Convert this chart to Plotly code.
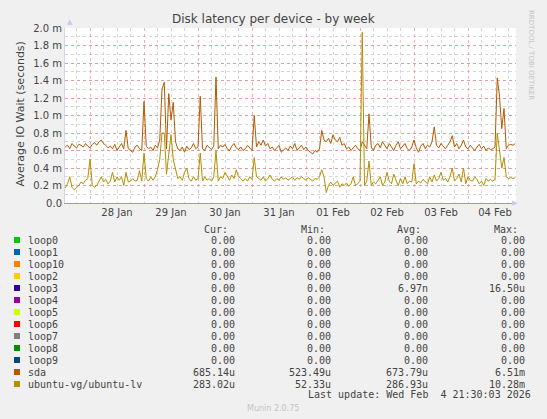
import pandas as pd
import plotly.graph_objects as go

# hourly averages, in milliseconds
start_time = "2026-01-27 13:00"

sda_ms = [
    0.64, 0.66, 0.62, 0.68, 0.65, 0.63, 0.67, 0.66, 0.64, 0.68,
    0.65, 0.63, 0.67, 0.69, 0.66, 0.70, 0.72, 0.68, 0.66, 0.63,
    0.65, 0.62, 0.67, 0.60, 0.64, 0.68, 0.62, 0.83, 0.62, 0.60,
    0.58, 0.64, 0.66, 0.62, 0.60, 1.16, 0.65, 0.62, 0.64, 0.60,
    0.66, 0.63, 0.72, 1.30, 1.38, 0.62, 1.25, 0.95, 1.15, 0.70,
    0.62, 0.60, 0.64, 0.58, 0.65, 0.61, 0.63, 0.68, 0.62, 0.64,
    1.22, 0.62, 0.60, 0.66, 0.63, 0.61, 0.65, 1.44, 0.62, 0.66,
    0.64, 0.67, 0.62, 0.60, 0.65, 0.68, 0.63, 0.61, 0.64, 0.60,
    0.62, 0.66, 0.63, 0.60, 1.00, 0.64, 0.70, 0.66, 0.72, 0.65,
    0.68, 0.62, 0.64, 0.60, 0.63, 0.66, 0.58, 0.61, 0.63, 0.60,
    0.65, 0.62, 0.68, 0.60, 0.63, 0.66, 0.61, 0.64, 0.60, 0.58,
    0.56, 0.60, 0.58, 0.62, 0.83, 0.72, 0.70, 0.74, 0.68, 0.78,
    0.72, 0.70, 0.75, 0.66, 0.68, 0.62, 0.64, 0.60, 0.63, 0.66,
    0.62, 0.60, 0.70, 0.66, 0.62, 1.02, 0.64, 0.60, 0.66, 0.68,
    0.63, 0.70, 0.66, 0.62, 0.68, 0.64, 0.60, 0.66, 0.70, 0.62,
    0.65, 0.68, 0.62, 0.60, 0.64, 0.72, 0.63, 0.58, 0.65, 0.68,
    0.62, 0.66, 0.64, 0.70, 0.87, 0.66, 0.63, 0.68, 0.65, 0.62,
    0.66, 0.70, 0.77, 0.64, 0.68, 0.62, 0.66, 0.72, 0.64, 0.62,
    0.66, 0.63, 0.60, 0.64, 0.67, 0.62, 0.65, 0.60, 0.63, 0.61,
    0.62, 0.64, 1.43, 1.22, 0.85, 1.08, 0.62, 0.66, 0.67, 0.66,
    0.68,
]

ubuntu_lv_ms = [
    0.17, 0.22, 0.30, 0.18, 0.15, 0.17, 0.20, 0.24, 0.22, 0.26,
    0.28, 0.50, 0.20, 0.18, 0.20, 0.25, 0.30, 0.24, 0.27, 0.22,
    0.25, 0.35, 0.24, 0.30, 0.26, 0.30, 0.20, 0.35, 0.24, 0.25,
    0.28, 0.25, 0.26, 0.37, 0.25, 0.57, 0.28, 0.25, 0.30, 0.26,
    0.30, 0.38, 0.50, 0.80, 0.80, 0.33, 0.60, 0.78, 0.50, 0.40,
    0.28, 0.30, 0.26, 0.35, 0.40, 0.28, 0.25, 0.30, 0.26, 0.28,
    0.57, 0.25, 0.30, 0.26, 0.28, 0.25, 0.30, 0.60, 0.25, 0.30,
    0.28, 0.35, 0.30, 0.26, 0.32, 0.28, 0.38, 0.30, 0.28, 0.25,
    0.28, 0.25, 0.30, 0.27, 0.52, 0.30, 0.28, 0.26, 0.30, 0.25,
    0.28, 0.32, 0.27, 0.25, 0.28, 0.26, 0.30, 0.27, 0.29, 0.26,
    0.28, 0.30, 0.26, 0.29, 0.27, 0.30, 0.28, 0.26, 0.29, 0.27,
    0.25, 0.28, 0.27, 0.30, 0.38, 0.30, 0.12, 0.20, 0.24, 0.20,
    0.22, 0.25, 0.18, 0.22, 0.20, 0.23, 0.19, 0.22, 0.30, 0.20,
    0.22, 0.25, 1.95, 0.20, 0.25, 0.48, 0.20, 0.24, 0.22, 0.26,
    0.30, 0.20, 0.24, 0.35, 0.25, 0.22, 0.33, 0.26, 0.20, 0.28,
    0.22, 0.30, 0.22, 0.25, 0.24, 0.45, 0.22, 0.25, 0.23, 0.27,
    0.25, 0.22, 0.30, 0.24, 0.32, 0.25, 0.28, 0.35, 0.26, 0.28,
    0.24, 0.30, 0.40, 0.25, 0.28, 0.33, 0.24, 0.40, 0.22, 0.30,
    0.26, 0.25, 0.30, 0.27, 0.22, 0.25, 0.20, 0.28, 0.25, 0.27,
    0.25, 0.27, 0.80, 0.62, 0.40, 0.52, 0.30, 0.28, 0.29, 0.28,
    0.29,
]

y_tickvals = [0.0, 0.2, 0.4, 0.6, 0.8, 1.0, 1.2, 1.4, 1.6, 1.8, 2.0]
y_ticktext = ["0.0", "0.2 m", "0.4 m", "0.6 m", "0.8 m", "1.0 m",
              "1.2 m", "1.4 m", "1.6 m", "1.8 m", "2.0 m"]

# legend table
devices = ["loop0", "loop1", "loop10", "loop2", "loop3", "loop4", "loop5",
           "loop6", "loop7", "loop8", "loop9", "sda", "ubuntu-vg/ubuntu-lv"]
colors = ["#00CC00", "#0066B3", "#FF8000", "#FFCC00", "#330099", "#990099",
          "#CCFF00", "#FF0000", "#808080", "#008F00", "#00487D", "#B35A00",
          "#B38F00"]
cur_vals = ["0.00"] * 11 + ["685.14u", "283.02u"]
min_vals = ["0.00"] * 11 + ["523.49u", "52.33u"]
avg_vals = ["0.00"] * 4 + ["6.97n"] + ["0.00"] * 6 + ["673.79u", "286.93u"]
max_vals = ["0.00"] * 4 + ["16.50u"] + ["0.00"] * 6 + ["6.51m", "10.28m"]

times = pd.date_range(start_time, periods=len(sda_ms), freq="h")

# plot box in pixels
L, R, T, B = 65, 516, 28, 203
W, H = 547, 419


def px_x(px):
    return (px - L) / (R - L)


def px_y(py):
    return (B - py) / (B - T)


fig = go.Figure()
fig.add_trace(go.Scatter(x=times, y=sda_ms, mode="lines",
                         line=dict(color="#B35A00", width=1)))
fig.add_trace(go.Scatter(x=times, y=ubuntu_lv_ms, mode="lines",
                         line=dict(color="#B38F00", width=1)))

txt = "#444444"
font = "DejaVu Sans"
mono = "DejaVu Sans Mono"
red_grid = "rgba(235,110,110,0.55)"

fig.update_layout(
    width=W, height=H,
    margin=dict(l=L, r=W - R, t=T, b=H - B),
    paper_bgcolor="#F0F0F0",
    plot_bgcolor="#FFFFFF",
    showlegend=False,
    font=dict(family=font, size=10, color=txt),
    xaxis=dict(
        type="date",
        range=["2026-01-27 12:53", "2026-02-04 21:20"],
        tick0="2026-01-28", dtick=86400000,
        ticklabelmode="period", tickformat="%d %b",
        ticks="", showgrid=True,
        gridcolor=red_grid, griddash="dot", gridwidth=1,
        minor=dict(tick0="2026-01-28", dtick=6 * 3600000, showgrid=True,
                   gridcolor="#D6D6D6", griddash="dot", ticks=""),
        showline=True, linecolor="#9A9ACC", linewidth=1,
        zeroline=False, tickfont=dict(size=10, color=txt),
    ),
    yaxis=dict(
        range=[0, 2.0],
        tickmode="array", tickvals=y_tickvals, ticktext=y_ticktext,
        ticks="", showgrid=True,
        gridcolor=red_grid, griddash="dot", gridwidth=1,
        minor=dict(dtick=0.1, tick0=0, showgrid=True, gridcolor="#D6D6D6",
                   griddash="dot", ticks=""),
        showline=True, linecolor="#D4D4F0", linewidth=1,
        zeroline=False, tickfont=dict(size=10, color=txt),
    ),
)

ann = []
# title and axis title
ann.append(dict(text="Disk latency per device - by week", x=px_x(273.5), y=px_y(19),
                font=dict(size=12, color=txt, family=font)))
ann.append(dict(text="Average IO Wait (seconds)", x=px_x(11), y=px_y(114),
                textangle=-90, font=dict(size=11, color=txt, family=font)))
ann.append(dict(text="RRDTOOL / TOBI OETIKER", x=px_x(537), y=px_y(55),
                textangle=90, font=dict(size=7, color="#C4C4C4", family=font)))
# axis arrows
ann.append(dict(text="▲", x=px_x(65), y=px_y(22),
                font=dict(size=7, color="#C8C8F0", family=font)))
ann.append(dict(text="▶", x=px_x(520), y=px_y(203),
                font=dict(size=7, color="#C8C8F0", family=font)))

# legend header
for label, right in zip(["Cur:", "Min:", "Avg:", "Max:"], [230, 327, 423, 520]):
    ann.append(dict(text=label, x=px_x(right), y=px_y(229), xanchor="right",
                    font=dict(size=10, color=txt, family=mono)))

shapes = []
for k, dev in enumerate(devices):
    row_y = 240 + 12 * k
    shapes.append(dict(type="rect", xref="paper", yref="paper",
                       x0=px_x(14), x1=px_x(20), y0=px_y(row_y + 3), y1=px_y(row_y - 3),
                       fillcolor=colors[k], line=dict(width=0)))
    ann.append(dict(text=dev, x=px_x(26), y=px_y(row_y), xanchor="left",
                    font=dict(size=10, color=txt, family=mono)))
    for vals, right in zip([cur_vals, min_vals, avg_vals, max_vals], [236.5, 333, 430, 527]):
        ann.append(dict(text=vals[k], x=px_x(right), y=px_y(row_y), xanchor="right",
                        font=dict(size=10, color=txt, family=mono)))

ann.append(dict(text="Last update: Wed Feb\u00a0\u00a04 21:30:03 2026", x=px_x(533), y=px_y(395),
                xanchor="right", font=dict(size=10, color=txt, family=mono)))
ann.append(dict(text="Munin 2.0.75", x=px_x(273), y=px_y(408),
                font=dict(size=8, color="#C4C4C4", family=font)))

for a in ann:
    a.setdefault("xref", "paper")
    a.setdefault("yref", "paper")
    a.setdefault("showarrow", False)
    a.setdefault("yanchor", "middle")

fig.update_layout(annotations=ann, shapes=shapes)

# drop the browser's default page margin so the figure sits at the top-left corner
fig.write_html("out.html", config={"displayModeBar": False},
               post_script="document.body.style.margin='0';")
